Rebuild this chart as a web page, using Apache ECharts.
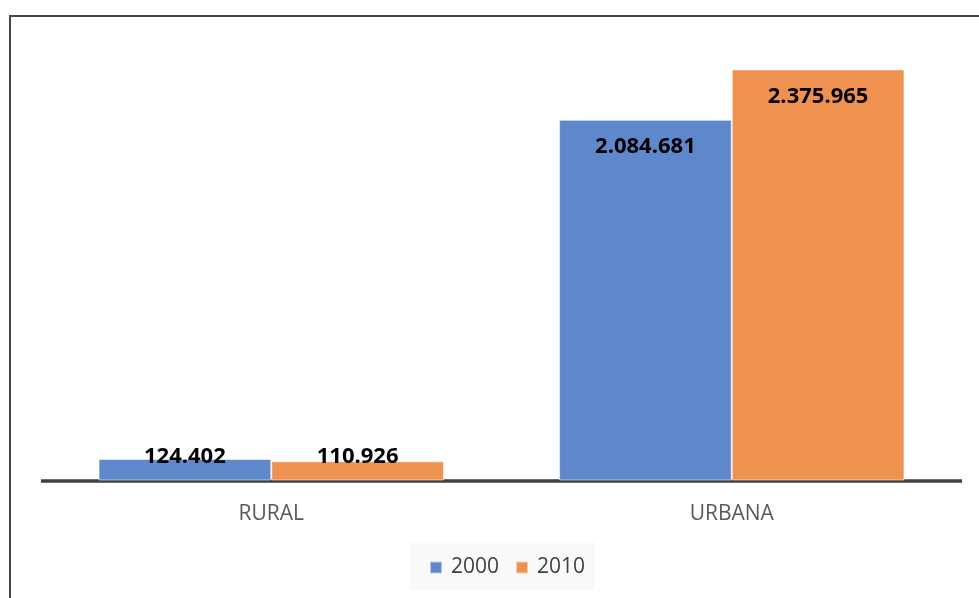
<!DOCTYPE html>
<html>
<head>
<meta charset="utf-8">
<script src="https://cdn.jsdelivr.net/npm/echarts@6/dist/echarts.min.js"></script>
<style>html,body{margin:0;padding:0;background:#fff}#c{width:979px;height:598px}</style>
</head>
<body>
<div id="c"></div>
<script>
const categories = ['RURAL', 'URBANA'];
const seriesNames = ['2000', '2010'];
const values2000 = [124402, 2084681];
const values2010 = [110926, 2375965];
const colors = ['#5f88cc', '#ef914f'];

function fmt(v) {
  return String(v).replace(/\B(?=(\d{3})+(?!\d))/g, '.');
}
function toData(arr) {
  return arr.map(function (v, i) {
    const item = { value: v };
    if (i === 0) {
      item.label = { position: 'insideBottom', distance: 13 };
    }
    return item;
  });
}

const chart = echarts.init(document.getElementById('c'), null, { renderer: 'canvas' });
const labelStyle = {
  show: true,
  position: 'insideTop',
  distance: 16,
  color: '#000',
  fontFamily: 'Open Sans',
  fontWeight: 'bold',
  fontSize: 22,
  formatter: function (p) { return fmt(p.value); }
};
chart.setOption({
  animation: false,
  backgroundColor: '#fff',
  graphic: [{
    type: 'rect',
    shape: { x: 10, y: 16, width: 1200, height: 1200 },
    style: { fill: 'none', stroke: '#474747', lineWidth: 2 },
    silent: true
  }],
  grid: { left: 41, right: 17, top: 48, bottom: 117.5, containLabel: false },
  legend: {
    data: seriesNames,
    left: 410,
    top: 542,
    backgroundColor: '#f9f9f9',
    padding: [15, 10, 12, 19],
    itemWidth: 12,
    itemHeight: 12,
    itemGap: 16,
    icon: 'rect',
    textStyle: { fontFamily: 'Open Sans', fontSize: 21, color: '#404040', padding: [0, 0, 0, 4] }
  },
  xAxis: {
    type: 'category',
    data: categories,
    axisTick: { show: false },
    axisLine: { lineStyle: { color: '#404040', width: 3.5, cap: 'butt' } },
    axisLabel: { fontFamily: 'Open Sans', fontSize: 21, color: '#595959', margin: 23 }
  },
  yAxis: {
    type: 'value',
    min: 0,
    max: 2500000,
    show: false,
    splitLine: { show: false }
  },
  series: [
    {
      name: seriesNames[0], type: 'bar', data: toData(values2000),
      barGap: '0%', barCategoryGap: '25%',
      itemStyle: { color: colors[0], borderColor: 'rgba(255,255,255,0.55)', borderWidth: 1 },
      label: labelStyle
    },
    {
      name: seriesNames[1], type: 'bar', data: toData(values2010),
      barGap: '0%', barCategoryGap: '25%',
      itemStyle: { color: colors[1], borderColor: 'rgba(255,255,255,0.55)', borderWidth: 1 },
      label: labelStyle
    }
  ]
});
</script>
</body>
</html>
